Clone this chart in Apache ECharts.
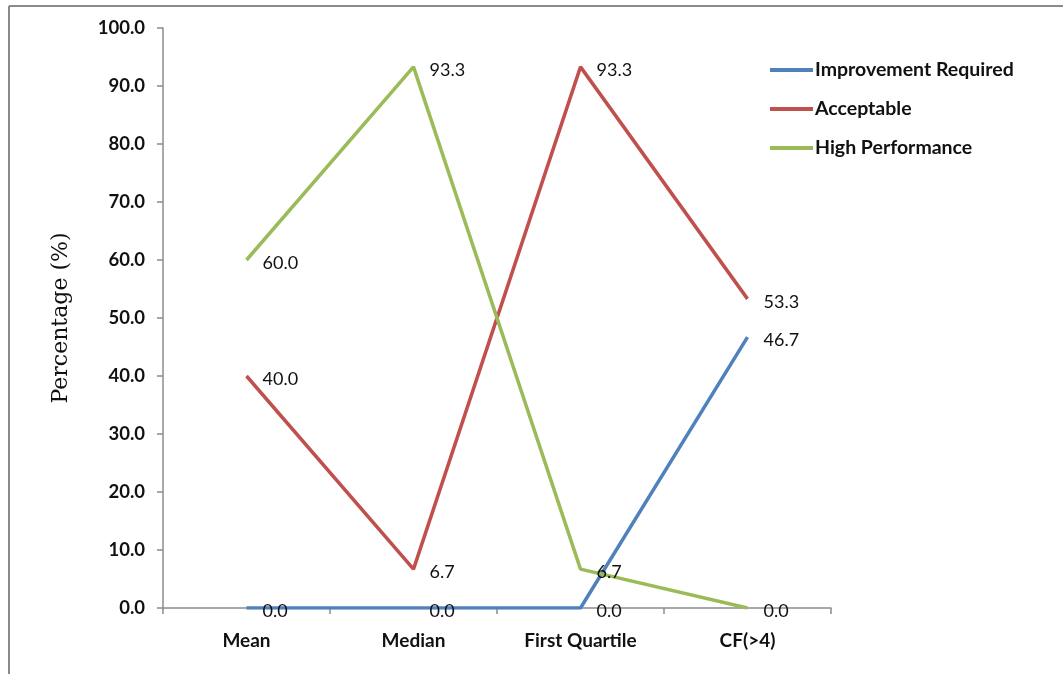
<!DOCTYPE html>
<html>
<head>
<meta charset="utf-8">
<script src="https://cdn.jsdelivr.net/npm/echarts@6/dist/echarts.min.js"></script>
<style>
  html, body { margin: 0; padding: 0; background: #fff; }
  #chart { width: 1063px; height: 674px; }
</style>
</head>
<body>
<div id="chart"></div>
<script>
// Score categories along the x axis
const categories = ['Mean', 'Median', 'First Quartile', 'CF(>4)'];

// Share of cases (%) in each performance band
const improvementRequired = [0.0, 0.0, 0.0, 46.7];
const acceptable = [40.0, 6.7, 93.3, 53.3];
const highPerformance = [60.0, 93.3, 6.7, 0.0];

const seriesNames = ['Improvement Required', 'Acceptable', 'High Performance'];
const seriesColors = ['#4F81BD', '#C0504D', '#9BBB59'];
const seriesValues = [improvementRequired, acceptable, highPerformance];

const FONT = 'Lato, "Open Sans", sans-serif';
const AXIS_GRAY = '#8c8c8c';

const chart = echarts.init(document.getElementById('chart'), null, { renderer: 'canvas' });

const series = seriesNames.map((name, i) => ({
  name,
  type: 'line',
  data: seriesValues[i],
  symbol: 'circle',
  symbolSize: 0,
  showSymbol: true,
  lineStyle: { color: seriesColors[i], width: 3.5 },
  itemStyle: { color: seriesColors[i] },
  label: {
    show: true,
    position: 'right',
    distance: 16,
    offset: [0, 3],
    color: '#111',
    fontFamily: FONT,
    fontSize: 18,
    formatter: p => Number(p.value).toFixed(1)
  },
  emphasis: { disabled: true },
  animation: false
}));

chart.setOption({
  backgroundColor: '#fff',
  animation: false,
  grid: { left: 163, right: 232, top: 28, bottom: 66, containLabel: false },
  legend: {
    orient: 'vertical',
    left: 770,
    top: 60,
    padding: 0,
    itemWidth: 43,
    itemHeight: 4,
    itemGap: 19,
    icon: 'rect',
    data: seriesNames,
    textStyle: { fontFamily: FONT, fontSize: 19.5, fontWeight: 'bold', color: '#111', padding: [0, 0, 0, -3] }
  },
  xAxis: {
    type: 'category',
    data: categories,
    boundaryGap: true,
    axisLine: { lineStyle: { color: AXIS_GRAY, width: 1.5 } },
    axisTick: { show: true, inside: false, length: 6, alignWithLabel: false, lineStyle: { color: AXIS_GRAY, width: 1.5 } },
    axisLabel: { margin: 23, fontFamily: FONT, fontSize: 19, fontWeight: 'bold', color: '#111' },
    splitLine: { show: false }
  },
  yAxis: {
    type: 'value',
    min: 0,
    max: 100,
    interval: 10,
    name: 'Percentage (%)',
    nameLocation: 'middle',
    nameGap: 91,
    nameRotate: 90,
    nameTextStyle: {
      fontFamily: '"DejaVu Serif", "Liberation Serif", serif',
      fontSize: 22,
      color: '#111'
    },
    axisLine: { show: true, lineStyle: { color: AXIS_GRAY, width: 1.5 } },
    axisTick: { show: true, inside: false, length: 6, lineStyle: { color: AXIS_GRAY, width: 1.5 } },
    axisLabel: {
      margin: 18,
      fontFamily: FONT,
      fontSize: 18.5,
      fontWeight: 'bold',
      color: '#111',
      formatter: v => v.toFixed(1)
    },
    splitLine: { show: false }
  },
  // Frame lines along the top and left edges of the figure
  graphic: [
    { type: 'line', shape: { x1: 9, y1: 6, x2: 1063, y2: 6 }, style: { stroke: '#8a8a8a', lineWidth: 2 }, silent: true },
    { type: 'line', shape: { x1: 9, y1: 6, x2: 9, y2: 674 }, style: { stroke: '#8a8a8a', lineWidth: 2 }, silent: true }
  ],
  series
});
</script>
</body>
</html>
